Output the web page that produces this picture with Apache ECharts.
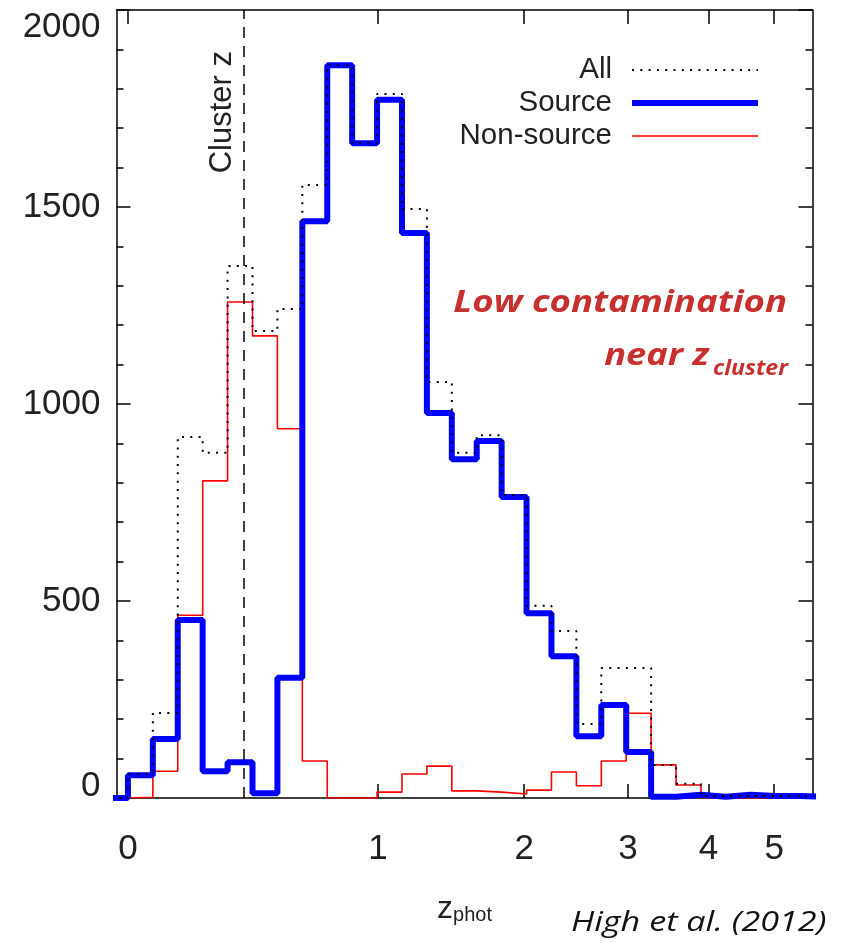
<!DOCTYPE html>
<html><head><meta charset="utf-8">
<script src="https://cdn.jsdelivr.net/npm/echarts@6/dist/echarts.min.js"></script>
<style>html,body{margin:0;padding:0;background:#fff;}#c{width:850px;height:943px;}</style>
</head><body><div id="c"></div>
<script>
// Bin edges in log10(1 + z_phot) (lower edges of each bin, plus the final upper edge)
const binEdges = [-0.03, 0.00, 0.03, 0.06, 0.09, 0.12, 0.15, 0.18, 0.21, 0.24,
                  0.27, 0.30, 0.33, 0.36, 0.39, 0.42, 0.45, 0.48, 0.51, 0.54,
                  0.57, 0.60, 0.63, 0.66, 0.69, 0.72, 0.75, 0.78, 0.81, 0.84];
// Counts per bin (one per bin, 29 bins)
const allCounts       = [0, 61, 216, 916, 876, 1350, 1185, 1241, 1556, 1860, 1662, 1787, 1495, 1056, 876, 921, 769, 488, 424, 188, 330, 330, 84, 36, 5, 5, 5, 5, 5];
const sourceCounts    = [0, 58, 150, 452, 68, 91, 12, 305, 1464, 1860, 1662, 1772, 1434, 977, 860, 906, 764, 469, 360, 157, 236, 117, 3, 8, 3, 8, 5, 5, 3];
const nonSourceCounts = [0, 2, 68, 464, 805, 1259, 1173, 937, 94, 0, 0, 15, 61, 81, 18, 15, 10, 20, 66, 31, 94, 215, 84, 33, 0, 0, 0, 0, 0];
const seriesNames = ['All', 'Source', 'Non-source'];
const zTickLabels = [0, 1, 2, 3, 4, 5];
const clusterZ = 0.386;
const yMin = 0, yMax = 2000, yStep = 500;
const zMinShown = -0.0312, zMaxShown = 5.673;

const toU = z => Math.log10(1 + z);
const zTickU = zTickLabels.map(toU);
const xMin = toU(zMinShown), xMax = toU(zMaxShown);
function stepData(vals) {
  return binEdges.map((e, i) => [e, vals[Math.min(i, vals.length - 1)]]);
}
const FONT = 'Liberation Sans';
const TXT = '#222';
const RED_TXT = '#c8302e';

const chart = echarts.init(document.getElementById('c'), null, {renderer: 'canvas'});
const axisLineStyle = {color: '#000', width: 1.5};
const tickStyle = {color: '#000', width: 1.5};
chart.setOption({
  animation: false,
  backgroundColor: '#fff',
  grid: {left: 116.5, right: 37.5, top: 10, bottom: 145},
  legend: {
    data: seriesNames,
    orient: 'vertical',
    right: 84, top: 50,
    align: 'right',
    itemWidth: 126, itemHeight: 14, itemGap: 3,
    selectedMode: false,
    itemStyle: {opacity: 0},
    lineStyle: {width: 'inherit', type: 'inherit'},
    textStyle: {fontFamily: FONT, fontSize: 29.5, color: TXT, lineHeight: 28, padding: [0, 15, 0, 0]}
  },
  xAxis: [{
    type: 'value', position: 'bottom', min: xMin, max: xMax,
    axisLine: {onZero: false, lineStyle: axisLineStyle},
    axisTick: {inside: true, length: 14, customValues: zTickU, lineStyle: tickStyle},
    axisLabel: {customValues: zTickU, formatter: v => String(Math.round(Math.pow(10, v) - 1)),
      fontFamily: FONT, fontSize: 35, color: TXT, margin: 34},
    splitLine: {show: false},
    name: '{z|z}{s|phot}', nameLocation: 'middle', nameGap: 95,
    nameTextStyle: {rich: {
      z: {fontFamily: FONT, fontSize: 32, color: TXT, verticalAlign: 'bottom'},
      s: {fontFamily: FONT, fontSize: 20, color: TXT, verticalAlign: 'bottom'}
    }}
  }, {
    type: 'value', position: 'top', min: xMin, max: xMax,
    axisLine: {onZero: false, lineStyle: axisLineStyle},
    axisTick: {inside: true, length: 14, customValues: zTickU, lineStyle: tickStyle},
    axisLabel: {show: false}, splitLine: {show: false}
  }],
  yAxis: [{
    type: 'value', position: 'left', min: yMin, max: yMax, interval: yStep,
    axisLine: {show: true, onZero: false, lineStyle: axisLineStyle},
    axisTick: {show: true, inside: true, length: 14, lineStyle: tickStyle},
    minorTick: {show: true, splitNumber: 5, length: 7, lineStyle: tickStyle},
    axisLabel: {fontFamily: FONT, fontSize: 35, color: TXT, margin: 16,
      formatter: v => v === yMax ? '{hi|' + v + '}' : (v === yMin ? '{lo|' + v + '}' : String(v)),
      rich: {
        hi: {fontFamily: FONT, fontSize: 35, color: TXT, padding: [34, 0, 0, 0]},
        lo: {fontFamily: FONT, fontSize: 35, color: TXT, padding: [0, 0, 24, 0]}
      }},
    splitLine: {show: false}
  }, {
    type: 'value', position: 'right', min: yMin, max: yMax, interval: yStep,
    axisLine: {show: true, onZero: false, lineStyle: axisLineStyle},
    axisTick: {show: true, inside: true, length: 14, lineStyle: tickStyle},
    minorTick: {show: true, splitNumber: 5, length: 7, lineStyle: tickStyle},
    axisLabel: {show: false}, splitLine: {show: false}
  }],
  series: [{
    name: seriesNames[2], type: 'line', step: 'end', data: stepData(nonSourceCounts),
    symbol: 'none', z: 2, color: '#ff0000',
    lineStyle: {color: '#ff0000', width: 1.6}
  }, {
    name: seriesNames[1], type: 'line', step: 'end', data: stepData(sourceCounts),
    symbol: 'none', z: 3, color: '#0000ff',
    lineStyle: {color: '#0000ff', width: 6}
  }, {
    name: seriesNames[0], type: 'line', step: 'end', data: stepData(allCounts),
    symbol: 'none', z: 4, color: '#000',
    lineStyle: {color: '#000', width: 2, type: [2, 6.3]},
    markLine: {
      silent: true, symbol: 'none', animation: false,
      lineStyle: {color: '#000', width: 1.5, type: [11, 8]},
      label: {show: true, formatter: 'Cluster z', position: 'insideEndTop', distance: 6,
        padding: [0, 35, 0, 0],
        fontFamily: FONT, fontSize: 31, color: TXT},
      data: [{xAxis: toU(clusterZ)}]
    }
  }],
  graphic: [
    {type: 'text', x: 787, y: 303, scaleX: 1.18,
     style: {text: 'Low contamination', align: 'right', verticalAlign: 'middle', font: 'italic bold 31px "Open Sans"', fill: RED_TXT}},
    {type: 'text', x: 709, y: 356, scaleX: 1.17,
     style: {text: 'near z', align: 'right', verticalAlign: 'middle', font: 'italic bold 31px "Open Sans"', fill: RED_TXT}},
    {type: 'text', x: 713, y: 369, scaleX: 1.1,
     style: {text: 'cluster', align: 'left', verticalAlign: 'middle', font: 'italic bold 21px "Open Sans"', fill: RED_TXT}},
    {type: 'text', x: 571, y: 923, scaleX: 1.22,
     style: {text: 'High et al. (2012)', align: 'left', verticalAlign: 'middle', font: 'italic 28px "Open Sans"', fill: '#111'}}
  ]
});
</script></body></html>
